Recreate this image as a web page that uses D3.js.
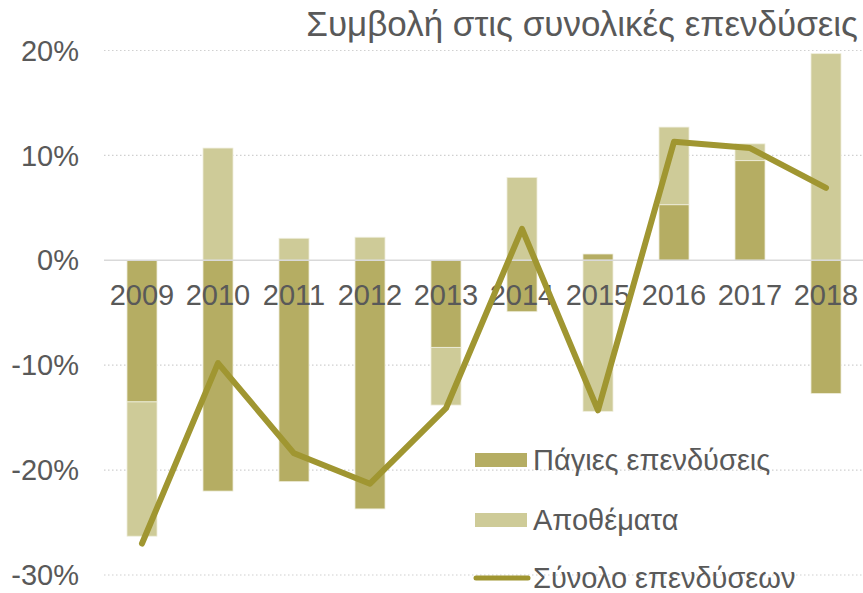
<!DOCTYPE html>
<html>
<head>
<meta charset="utf-8">
<script src="https://cdn.jsdelivr.net/npm/d3@7"></script>
<style>
  body { margin: 0; background: #fff; }
  svg { display: block; font-family: "Liberation Sans", Arial, sans-serif; }
</style>
</head>
<body>
<svg id="chart"></svg>
<script>
var width = 863;
var height = 593;

// data (percent)
var years = ["2009", "2010", "2011", "2012", "2013", "2014", "2015", "2016", "2017", "2018"];
var fixedInv = [-13.5, -22.0, -21.1, -23.7, -8.3, -4.9, 0.6, 5.3, 9.5, -12.7];
var stocks = [-12.8, 10.7, 2.1, 2.2, -5.5, 7.9, -14.4, 7.4, 1.6, 19.7];
var totalInv = [-27.0, -9.8, -18.4, -21.3, -14.1, 3.0, -14.3, 11.3, 10.7, 6.9];
var yTicks = [-30, -20, -10, 0, 10, 20];

var seriesNames = ["Πάγιες επενδύσεις", "Αποθέματα", "Σύνολο επενδύσεων"];
var title = "Συμβολή στις συνολικές επενδύσεις";

var colors = {
    fixed: "#b5ad63",
    stocks: "#cecb98",
    total: "#a09631"
};
var textColor = "#595959";

var svg = d3.select("#chart")
    .attr("width", width)
    .attr("height", height);

var x = d3.scaleBand()
    .domain(years)
    .range([104, 864])
    .paddingInner(0.605)
    .paddingOuter(0.3025);

var y = d3.scaleLinear()
    .domain([-30, 20])
    .range([575, 50.5]);

// gridlines
svg.append("g").selectAll("line")
    .data(yTicks.filter(d => d !== 0))
    .enter().append("line")
    .attr("x1", 104)
    .attr("x2", width)
    .attr("y1", d => y(d))
    .attr("y2", d => y(d))
    .attr("stroke", "#d0d0d0")
    .attr("stroke-width", 1.2)
    .attr("stroke-dasharray", "1.5,2.5");

// y labels
svg.append("g").selectAll("text")
    .data(yTicks)
    .enter().append("text")
    .attr("x", 79)
    .attr("y", d => y(d))
    .attr("dy", "0.35em")
    .attr("text-anchor", "end")
    .attr("fill", textColor)
    .style("font-size", "29px")
    .text(d => d + "%");

// stacked bars, diverging
var rows = years.map((yr, i) => ({ year: yr, fixed: fixedInv[i], stocks: stocks[i] }));
var stack = d3.stack()
    .keys(["fixed", "stocks"])
    .offset(d3.stackOffsetDiverging);
var layers = stack(rows);

svg.append("g").selectAll("g")
    .data(layers)
    .enter().append("g")
    .attr("fill", d => colors[d.key])
    .selectAll("rect")
    .data(d => d)
    .enter().append("rect")
    .attr("x", d => x(d.data.year))
    .attr("width", x.bandwidth())
    .attr("y", d => y(Math.max(d[0], d[1])))
    .attr("height", d => Math.abs(y(d[0]) - y(d[1])))
    .attr("stroke", "#efeedd")
    .attr("stroke-width", 0.8);

// zero line
svg.append("line")
    .attr("x1", 104)
    .attr("x2", width)
    .attr("y1", y(0))
    .attr("y2", y(0))
    .attr("stroke", "#d9d9d9")
    .attr("stroke-width", 1.5);

// x labels
svg.append("g").selectAll("text")
    .data(years)
    .enter().append("text")
    .attr("x", d => x(d) + x.bandwidth() / 2)
    .attr("y", 305)
    .attr("text-anchor", "middle")
    .attr("fill", textColor)
    .style("font-size", "29px")
    .text(d => d);

// total line
var line = d3.line()
    .x((d, i) => x(years[i]) + x.bandwidth() / 2)
    .y(d => y(d));

svg.append("path")
    .datum(totalInv)
    .attr("d", line)
    .attr("fill", "none")
    .attr("stroke", colors.total)
    .attr("stroke-width", 6)
    .attr("stroke-linejoin", "round")
    .attr("stroke-linecap", "round");

// title
svg.append("text")
    .attr("x", 858)
    .attr("y", 36)
    .attr("text-anchor", "end")
    .attr("fill", textColor)
    .style("font-size", "35px")
    .text(title);

// legend
var legend = svg.append("g");
var legendY = [460, 520, 578];
legend.append("rect")
    .attr("x", 475).attr("y", legendY[0] - 7)
    .attr("width", 52).attr("height", 14)
    .attr("fill", colors.fixed);
legend.append("rect")
    .attr("x", 475).attr("y", legendY[1] - 7)
    .attr("width", 52).attr("height", 14)
    .attr("fill", colors.stocks);
legend.append("line")
    .attr("x1", 476).attr("x2", 528)
    .attr("y1", legendY[2]).attr("y2", legendY[2])
    .attr("stroke", colors.total)
    .attr("stroke-width", 5)
    .attr("stroke-linecap", "round");
legend.selectAll("text")
    .data(seriesNames)
    .enter().append("text")
    .attr("x", 533)
    .attr("y", (d, i) => legendY[i])
    .attr("dy", "0.35em")
    .attr("fill", textColor)
    .style("font-size", "29px")
    .text(d => d);
</script>
</body>
</html>
